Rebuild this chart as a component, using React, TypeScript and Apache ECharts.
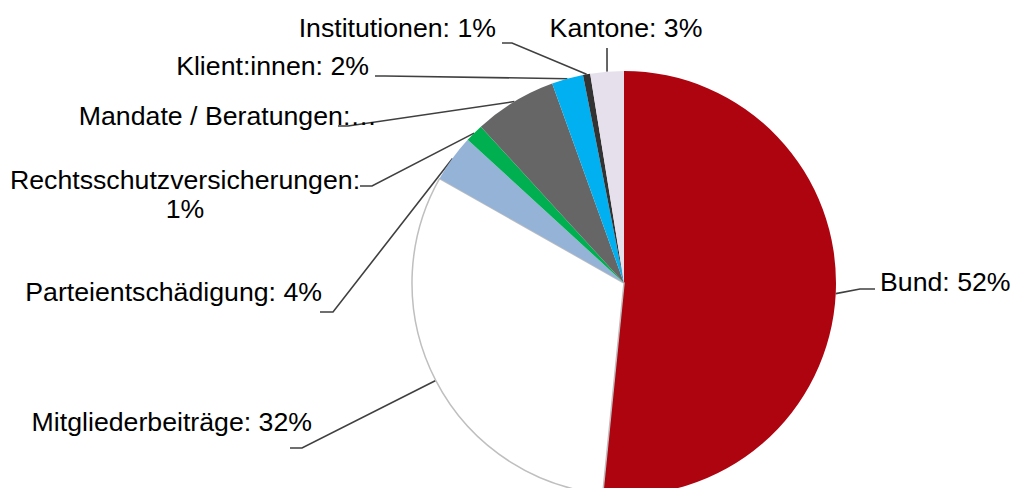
import React, { useEffect, useRef } from "react";
import * as echarts from "echarts";

const categories = [
  "Bund",
  "Mitgliederbeiträge",
  "Parteientschädigung",
  "Rechtsschutzversicherungen",
  "Mandate / Beratungen",
  "Klient:innen",
  "Institutionen",
  "Kantone",
];
const values = [51.6, 31.6, 3.6, 1.4, 6.3, 2.4, 0.55, 2.55];
const colors = ["#AE0410", "#FFFFFF", "#95B3D7", "#00B050", "#666666", "#00B0F0", "#333333", "#E6E0EC"];
const labelTexts = [
  "Bund: {p}%",
  "Mitgliederbeiträge: {p}%",
  "Parteientschädigung: {p}%",
  "Rechtsschutzversicherungen:\n{p}%",
  "Mandate / Beratungen:…",
  "Klient:innen: {p}%",
  "Institutionen: {p}%",
  "Kantone: {p}%",
];

// label placement (layout only): anchor x, y, align, elbow point, end point
const labelPlacement = [
  { x: 880, y: 282, align: "left", elbow: [860, 289], end: [875, 289] },
  { x: 312, y: 422, align: "right", elbow: [302, 448], end: [290, 448] },
  { x: 322, y: 292, align: "right", elbow: [333, 312], end: [320, 312] },
  { x: 185, y: 194, align: "center", elbow: [372, 186], end: [360, 186] },
  { x: 377, y: 116, align: "right", elbow: [348, 126], end: [338, 126] },
  { x: 369, y: 66, align: "right", elbow: [385, 76], end: [375, 76] },
  { x: 496, y: 28, align: "right", elbow: [512, 43], end: [502, 43] },
  { x: 626, y: 28, align: "center", elbow: [607, 50], end: [607, 48] },
];

export default function App() {
  const ref = useRef<HTMLDivElement>(null);
  useEffect(() => {
    if (!ref.current) return;
    const chart = echarts.init(ref.current, undefined, { renderer: "svg" });
    const total = values.reduce((a, b) => a + b, 0);
    const cx = 624;
    const cy = 283;
    const r = 212;
    const mids: number[] = [];
    let acc = 0;
    values.forEach((v) => {
      const a0 = (acc / total) * Math.PI * 2;
      acc += v;
      const a1 = (acc / total) * Math.PI * 2;
      mids.push((a0 + a1) / 2);
    });
    chart.setOption({
      animation: false,
      backgroundColor: "#FFFFFF",
      series: [
        {
          type: "pie",
          center: [cx, cy],
          radius: [0, r],
          startAngle: 90,
          clockwise: true,
          avoidLabelOverlap: false,
          emphasis: { disabled: true },
          label: {
            show: true,
            position: "outside",
            color: "#000000",
            fontFamily: "'Liberation Sans', Arial, sans-serif",
            fontSize: 26.7,
            lineHeight: 29,
            formatter: (p: any) => {
              const pct = Math.round((p.value / total) * 100);
              return labelTexts[p.dataIndex].replace("{p}", String(pct));
            },
          },
          labelLine: {
            show: true,
            length: 20,
            length2: 10,
            lineStyle: { color: "#404040", width: 1.6 },
          },
          labelLayout: (params: any) => {
            const lp = labelPlacement[params.dataIndex];
            let start: number[];
            if (params.labelLinePoints && params.labelLinePoints[0]) {
              start = params.labelLinePoints[0];
            } else {
              const m = mids[params.dataIndex];
              start = [cx + r * Math.sin(m), cy - r * Math.cos(m)];
            }
            return {
              x: lp.x,
              y: lp.y,
              align: lp.align,
              verticalAlign: "middle",
              labelLinePoints: [start, lp.elbow, lp.end],
            };
          },
          data: categories.map((name, i) => ({
            name,
            value: values[i],
            itemStyle:
              i === 1
                ? { color: colors[i], borderColor: "#BFBFBF", borderWidth: 1.5 }
                : { color: colors[i], borderWidth: 0 },
          })),
        },
      ],
    });
    return () => chart.dispose();
  }, []);
  return (
    <div
      ref={ref}
      style={{ position: "fixed", left: 0, top: 0, width: 1011, height: 488 }}
    />
  );
}
